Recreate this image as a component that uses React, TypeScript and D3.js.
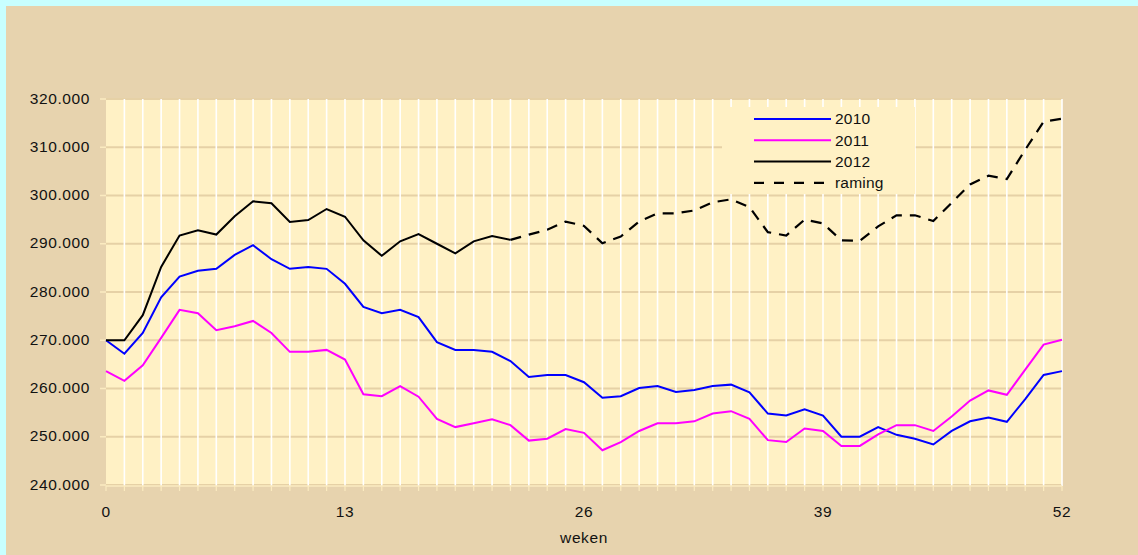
import React from "react";
import * as d3 from "d3";

const weeks: number[] = d3.range(0, 53);
const xTickValues: number[] = [0, 13, 26, 39, 52];
const yTickValues: number[] = [240000, 250000, 260000, 270000, 280000, 290000, 300000, 310000, 320000];

const series2010: number[] = [
  270000, 267200, 271500, 278900, 283200, 284400, 284800, 287700, 289700, 286800,
  284800, 285200, 284800, 281700, 276900, 275600, 276300, 274800, 269600, 268000,
  268000, 267600, 265700, 262400, 262800, 262800, 261300, 258100, 258400, 260100,
  260500, 259300, 259700, 260500, 260800, 259200, 254800, 254400, 255700, 254400,
  250000, 250000, 252000, 250400, 249600, 248400, 251200, 253200, 254000, 253100,
  257800, 262800, 263600,
];
const series2011: number[] = [
  263600, 261600, 264800, 270500, 276300, 275600, 272100, 272900, 274000, 271500,
  267600, 267600, 268000, 266000, 258800, 258400, 260500, 258300, 253700, 252000,
  252800, 253600, 252400, 249200, 249600, 251600, 250800, 247200, 248900, 251200,
  252800, 252800, 253200, 254800, 255300, 253700, 249300, 248900, 251700, 251200,
  248100, 248100, 250500, 252400, 252400, 251200, 254200, 257500, 259600, 258700,
  263900, 269100, 270100,
];
// 2012 actuals: weeks 0..22
const series2012: number[] = [
  270000, 270000, 275200, 285200, 291700, 292800, 291900, 295700, 298800, 298400,
  294500, 294900, 297200, 295600, 290700, 287500, 290500, 292000, 290000, 288000,
  290500, 291600, 290800,
];
// raming (forecast): weeks 22..52
const ramingStart = 22;
const seriesRaming: number[] = [
  290800, 291900, 292900, 294600, 293700, 290100, 291500, 294600, 296300, 296300,
  296900, 298600, 299200, 297600, 292400, 291700, 295000, 294200, 290700, 290600,
  293600, 295900, 295900, 294700, 298500, 302300, 304100, 303400, 309500, 315300,
  315900,
];
const legendLabels: string[] = ["2010", "2011", "2012", "raming"];
const xAxisTitle = "weken";

const W = 1138;
const H = 555;
const plotL = 106;
const plotR = 1062;
const plotT = 99;
const plotB = 486;

const FONT = "'Liberation Sans', Arial, sans-serif";

const nl = d3.formatLocale({ decimal: ",", thousands: ".", grouping: [3], currency: ["€", ""] });
const fmt = nl.format(",.3~f");
const yFmt = (v: number) => nl.format(",")(v);

export default function App() {
  const x = d3.scaleLinear().domain([0, 52]).range([plotL, plotR]);
  const y = d3.scaleLinear().domain([240000, 320000]).range([485, 99]);

  const line = d3
    .line<[number, number]>()
    .x((d) => x(d[0]))
    .y((d) => y(d[1]));

  const d2010 = line(series2010.map((v, i) => [i, v] as [number, number]));
  const d2011 = line(series2011.map((v, i) => [i, v] as [number, number]));
  const d2012 = line(series2012.map((v, i) => [i, v] as [number, number]));
  const dRam = line(seriesRaming.map((v, i) => [i + ramingStart, v] as [number, number]));

  const legend = { x0: 722, x1: 915, y0: 107, y1: 194 };
  const legendItems = [
    { label: legendLabels[0], color: "#0000FF", dash: undefined as string | undefined },
    { label: legendLabels[1], color: "#FF00FF", dash: undefined },
    { label: legendLabels[2], color: "#000000", dash: undefined },
    { label: legendLabels[3], color: "#000000", dash: "10,10" },
  ];

  return (
    <div style={{ position: "fixed", left: 0, top: 0, width: W, height: H }}>
      <svg width={W} height={H} style={{ display: "block" }}>
        <rect x={0} y={0} width={W} height={H} fill="#C8FFFF" />
        <rect x={6} y={6} width={W - 6} height={H - 6} fill="#E7D3AE" />
        {/* plot area */}
        <rect x={plotL} y={plotT} width={plotR - plotL} height={plotB - plotT} fill="#FFF1C5" />
        {/* horizontal gridlines */}
        {yTickValues.map((v) => (
          <line key={"hg" + v} x1={plotL} x2={plotR} y1={y(v)} y2={y(v)} stroke="#E6D1A6" strokeWidth={2} />
        ))}
        {/* vertical white lines */}
        {weeks.slice(1).map((w) => (
          <line key={"vg" + w} x1={x(w)} x2={x(w)} y1={plotT} y2={plotB} stroke="#FFFFFF" strokeWidth={1.6} />
        ))}
        {/* legend box covering gridlines */}
        <rect x={legend.x0} y={legend.y0} width={legend.x1 - legend.x0} height={legend.y1 - legend.y0} fill="#FFF1C5" />
        {/* left ticks */}
        {yTickValues.map((v) => (
          <line key={"yt" + v} x1={100} x2={plotL} y1={y(v)} y2={y(v)} stroke="#FBEBC0" strokeWidth={1.5} />
        ))}
        {/* bottom ticks */}
        {weeks.map((w) => (
          <line key={"xt" + w} x1={x(w)} x2={x(w)} y1={plotB} y2={plotB + 5} stroke="#FBEBC0" strokeWidth={1.2} />
        ))}
        <line x1={plotL} x2={plotR} y1={plotB} y2={plotB} stroke="#FBEBC0" strokeWidth={1.5} />
        {/* y labels */}
        {yTickValues.map((v) => (
          <text
            key={"yl" + v}
            x={90}
            y={y(v)}
            dy="0.3em"
            textAnchor="end"
            fontFamily={FONT}
            fontSize={15.5}
            letterSpacing={0.6}
            fill="#111"
          >
            {yFmt(v).replace(/^(\d+)\.(\d+)$/, "$1.$2")}
          </text>
        ))}
        {/* x labels */}
        {xTickValues.map((w) => (
          <text key={"xl" + w} x={x(w)} y={517} textAnchor="middle" fontFamily={FONT} fontSize={15.5} letterSpacing={0.6} fill="#111">
            {String(w)}
          </text>
        ))}
        <text x={(plotL + plotR) / 2} y={543} textAnchor="middle" fontFamily={FONT} fontSize={15.5} letterSpacing={0.6} fill="#111">
          {xAxisTitle}
        </text>
        {/* series */}
        <path d={d2010 || ""} fill="none" stroke="#0000FF" strokeWidth={2} />
        <path d={d2011 || ""} fill="none" stroke="#FF00FF" strokeWidth={2} />
        <path d={dRam || ""} fill="none" stroke="#000000" strokeWidth={2.2} strokeDasharray="11,8" />
        <path d={d2012 || ""} fill="none" stroke="#000000" strokeWidth={2} />
        {/* legend */}
        {legendItems.map((it, i) => {
          const ly = 119 + i * 21.3;
          return (
            <g key={"lg" + i}>
              <line x1={754} x2={831} y1={ly} y2={ly} stroke={it.color} strokeWidth={it.dash ? 2.2 : 2} strokeDasharray={it.dash} />
              <text x={835} y={ly} dy="0.35em" fontFamily={FONT} fontSize={15.5} letterSpacing={0.2} fill="#111">
                {it.label}
              </text>
            </g>
          );
        })}
      </svg>
    </div>
  );
}
